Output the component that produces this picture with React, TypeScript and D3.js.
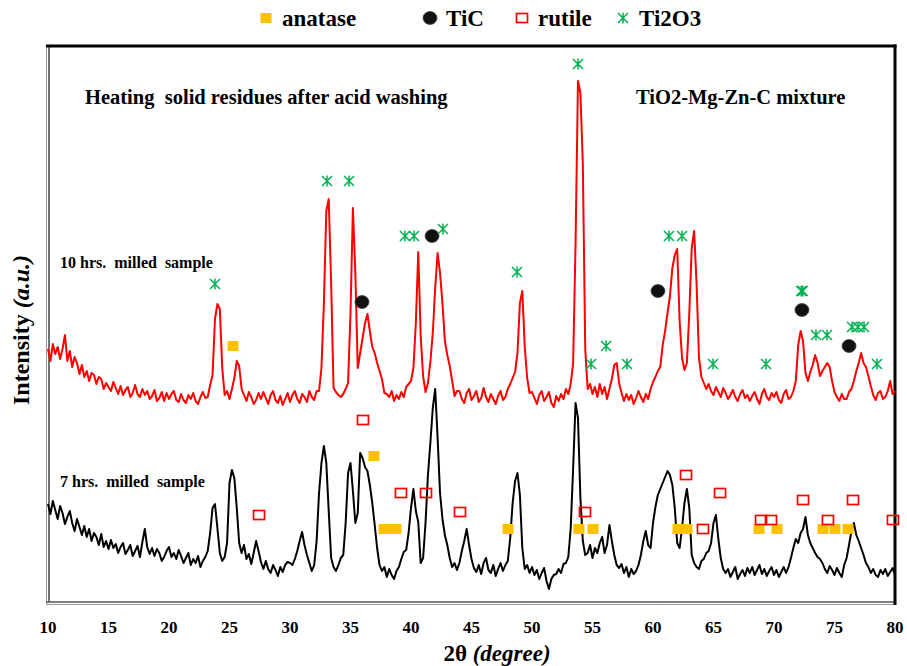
import * as d3 from "d3";
import { useEffect, useRef } from "react";

// XRD patterns sampled every 0.2 degree from 2θ = 10 to 80 (arbitrary intensity, offset stacked)
const THETA_START = 10;
const THETA_STEP = 0.2;

const milled10h = [
  254, 242, 259, 249, 256, 244, 254, 268, 242, 252,
  236, 246, 240, 229, 238, 226, 232, 222, 230, 228,
  219, 226, 224, 214, 220, 216, 212, 221, 215, 209,
  217, 208, 213, 216, 206, 210, 218, 209, 206, 214,
  208, 212, 204, 207, 213, 202, 205, 211, 202, 210,
  204, 209, 212, 203, 201, 209, 203, 200, 208, 204,
  210, 202, 199, 206, 211, 205, 206, 218, 228, 284,
  299, 294, 235, 208, 212, 204, 214, 225, 242, 237,
  214, 208, 202, 211, 206, 199, 203, 210, 204, 211,
  205, 199, 208, 212, 203, 200, 207, 198, 204, 210,
  201, 208, 212, 204, 200, 209, 206, 201, 212, 206,
  203, 212, 212, 235, 300, 392, 404, 320, 215, 211,
  208, 206, 209, 214, 220, 290, 395, 330, 235, 250,
  265, 280, 289, 272, 256, 250, 240, 232, 224, 210,
  209, 206, 212, 202, 208, 204, 211, 206, 216, 219,
  222, 235, 280, 351, 267, 227, 211, 220, 241, 270,
  315, 350, 330, 300, 262, 248, 237, 222, 207, 212,
  212, 204, 200, 210, 214, 203, 207, 212, 201, 205,
  215, 206, 201, 209, 204, 199, 207, 212, 203, 206,
  214, 219, 225, 231, 250, 300, 312, 256, 225, 210,
  211, 205, 199, 208, 212, 202, 206, 211, 200, 196,
  207, 202, 209, 204, 214, 209, 219, 240, 360, 522,
  510, 440, 254, 214, 219, 209, 216, 206, 219, 209,
  216, 204, 214, 224, 238, 240, 220, 210, 202, 209,
  203, 208, 199, 205, 212, 206, 201, 209, 204, 214,
  221, 226, 232, 236, 258, 272, 290, 307, 335, 348,
  354, 282, 245, 233, 240, 290, 355, 372, 320, 245,
  226, 220, 214, 219, 212, 208, 216, 211, 206, 215,
  210, 204, 208, 213, 206, 202, 209, 213, 205, 208,
  202, 207, 211, 204, 199, 209, 214, 206, 203, 210,
  206, 211, 203, 200, 209, 213, 204, 206, 212, 222,
  258, 272, 262, 230, 222, 231, 238, 248, 240, 227,
  232, 236, 240, 236, 222, 211, 206, 202, 209, 204,
  204, 211, 214, 222, 232, 240, 250, 240, 236, 227,
  217, 208, 203, 210, 212, 204, 206, 212, 222, 209,
  212,
];

const milled7h = [
  99, 89, 102, 93, 84, 97, 90, 79, 86, 92,
  80, 72, 84, 76, 68, 77, 66, 74, 62, 70,
  66, 58, 69, 56, 62, 54, 63, 55, 59, 50,
  56, 60, 49, 53, 58, 47, 52, 57, 46, 61,
  74, 56, 49, 55, 47, 54, 50, 42, 46, 52,
  56, 46, 50, 44, 53, 47, 40, 45, 50, 38,
  44, 40, 47, 36, 42, 46, 52, 70, 95, 99,
  75, 50, 42, 46, 60, 120, 133, 125, 95, 60,
  50, 58, 44, 49, 39, 50, 62, 52, 41, 34,
  42, 34, 30, 38, 33, 27, 36, 31, 38, 41,
  40, 38, 44, 52, 62, 71, 58, 48, 40, 32,
  38, 62, 110, 140, 157, 140, 92, 45, 36, 32,
  38, 45, 48, 80, 130, 140, 112, 80, 90, 150,
  145, 136, 132, 118, 100, 78, 55, 38, 32, 36,
  26, 34, 28, 24, 32, 36, 44, 51, 53, 70,
  95, 114, 92, 81, 40, 45, 80, 128, 160, 195,
  214, 165, 110, 84, 68, 58, 45, 36, 40, 33,
  40, 52, 62, 74, 58, 44, 35, 31, 38, 29,
  40, 45, 33, 30, 38, 27, 34, 40, 32, 38,
  42, 65, 100, 122, 130, 108, 55, 34, 38, 30,
  36, 28, 33, 24, 30, 35, 22, 14, 24, 28,
  29, 34, 30, 39, 40, 46, 75, 135, 200, 185,
  105, 62, 48, 50, 58, 45, 55, 50, 60, 66,
  50, 58, 78, 62, 48, 38, 35, 39, 30, 36,
  26, 34, 29, 32, 38, 48, 62, 72, 58, 55,
  80, 96, 108, 114, 120, 126, 132, 128, 118, 95,
  60, 55, 75, 100, 114, 95, 48, 40, 36, 34,
  42, 44, 50, 52, 60, 80, 88, 64, 45, 34,
  30, 34, 26, 31, 36, 24, 29, 33, 27, 35,
  30, 36, 28, 33, 38, 29, 34, 27, 32, 36,
  28, 33, 26, 31, 36, 30, 36, 45, 55, 64,
  60, 70, 74, 86, 68, 60, 55, 50, 46, 44,
  40, 34, 30, 37, 33, 28, 35, 30, 26, 38,
  45, 58, 72, 80, 68, 62, 55, 48, 40, 36,
  30, 34, 28, 26, 33, 29, 34, 27, 31, 35,
  28,
];

// phase markers: [2θ, intensity]
const anatase = [
  [25.29, 257], [36.94, 147], [37.77, 74], [38.26, 74], [38.76, 74],
  [48.02, 74], [53.88, 74], [55.04, 74], [62.07, 74], [62.81, 74],
  [68.76, 74], [70.25, 74], [74.05, 74], [75.04, 74], [76.12, 74],
];
const tic = [
  [35.95, 301], [41.74, 367], [60.41, 312], [72.31, 293], [76.2, 257],
];
const rutile = [
  [27.44, 88], [36.03, 183], [39.17, 110], [41.24, 110], [44.05, 91],
  [54.38, 91], [62.73, 128], [64.13, 74], [65.54, 110], [68.93, 83],
  [69.75, 83], [72.4, 103], [74.46, 83], [76.53, 103], [79.83, 83],
];
const ti2o3 = [
  [23.8, 319], [33.06, 422], [34.88, 422], [39.5, 367], [40.25, 367],
  [42.64, 374], [48.76, 331], [53.8, 539], [54.88, 239], [56.12, 257],
  [57.85, 239], [61.32, 367], [62.4, 367], [64.96, 239], [69.34, 239],
  [72.25, 312], [72.37, 312], [73.47, 268], [74.38, 268], [76.45, 276],
  [76.94, 276], [77.44, 276], [78.51, 239],
];

const xTicks = [10, 15, 20, 25, 30, 35, 40, 45, 50, 55, 60, 65, 70, 75, 80];
const legendItems = ["anatase", "TiC", "rutile", "Ti2O3"];

const FONT = "'Liberation Serif', 'Times New Roman', serif";
const GREEN = "#00B050";
const ORANGE = "#FFC000";

const App = () => {
  const ref = useRef(null);

  useEffect(() => {
    const svg = d3.select(ref.current);
    svg.selectAll("*").remove();

    const left = 48, right = 895, top = 46, bottom = 603;

    const x = d3.scaleLinear().domain([10, 80]).range([left, right]);
    const y = d3.scaleLinear().domain([0, 557]).range([bottom, top]);

    const line = d3
      .line()
      .x((d, i) => x(THETA_START + i * THETA_STEP))
      .y((d) => y(d));

    svg.append("rect").attr("width", 907).attr("height", 666).attr("fill", "#fff");

    // frame
    const frame = svg.append("g");
    frame.append("line").attr("x1", 46.5).attr("x2", 46.5).attr("y1", top).attr("y2", 605)
      .attr("stroke", "#999").attr("stroke-width", 1);
    frame.append("line").attr("x1", 49).attr("x2", 49).attr("y1", top).attr("y2", 602)
      .attr("stroke", "#444").attr("stroke-width", 1.5);
    frame.append("line").attr("x1", 46).attr("x2", right).attr("y1", 602).attr("y2", 602)
      .attr("stroke", "#555").attr("stroke-width", 1.5);
    frame.append("line").attr("x1", 46).attr("x2", right + 1).attr("y1", 604.5).attr("y2", 604.5)
      .attr("stroke", "#999").attr("stroke-width", 1);
    frame.append("line").attr("x1", 46).attr("x2", right + 1.5).attr("y1", top).attr("y2", top)
      .attr("stroke", "#000").attr("stroke-width", 3);
    frame.append("line").attr("x1", right).attr("x2", right).attr("y1", top - 1.5).attr("y2", 605)
      .attr("stroke", "#000").attr("stroke-width", 3);

    // patterns
    svg.append("path").datum(milled10h).attr("d", line)
      .attr("fill", "none").attr("stroke", "#FF0000").attr("stroke-width", 2)
      .attr("stroke-linejoin", "round");
    svg.append("path").datum(milled7h).attr("d", line)
      .attr("fill", "none").attr("stroke", "#000").attr("stroke-width", 2)
      .attr("stroke-linejoin", "round");

    // marker drawers
    const drawSquare = (g, cx, cy) =>
      g.append("rect").attr("x", cx - 5.5).attr("y", cy - 5).attr("width", 11).attr("height", 10)
        .attr("fill", ORANGE);
    const drawCircle = (g, cx, cy) =>
      g.append("ellipse").attr("cx", cx).attr("cy", cy).attr("rx", 7).attr("ry", 6.5)
        .attr("fill", "#111").attr("stroke", "#444").attr("stroke-width", 0.8);
    const drawHollow = (g, cx, cy) =>
      g.append("rect").attr("x", cx - 5.5).attr("y", cy - 4.5).attr("width", 11).attr("height", 9)
        .attr("fill", "none").attr("stroke", "#FF0000").attr("stroke-width", 1.7);
    const drawStar = (g, cx, cy) => {
      const s = 5;
      const p = `M${cx - s},${cy - s}L${cx + s},${cy + s}M${cx - s},${cy + s}L${cx + s},${cy - s}M${cx},${cy - s - 0.5}L${cx},${cy + s + 0.5}`;
      g.append("path").attr("d", p).attr("stroke", GREEN).attr("stroke-width", 1.5).attr("fill", "none");
    };

    const marks = svg.append("g");
    anatase.forEach(([t, v]) => drawSquare(marks, x(t), y(v)));
    rutile.forEach(([t, v]) => drawHollow(marks, x(t), y(v)));
    tic.forEach(([t, v]) => drawCircle(marks, x(t), y(v)));
    ti2o3.forEach(([t, v]) => drawStar(marks, x(t), y(v)));

    // x tick labels
    svg.append("g").selectAll("text").data(xTicks).enter().append("text")
      .attr("x", (d) => x(d)).attr("y", 633).attr("text-anchor", "middle")
      .attr("font-family", FONT).attr("font-weight", "bold").attr("font-size", 17)
      .text((d) => d);

    // axis titles
    const xt = svg.append("text").attr("x", 497).attr("y", 661).attr("text-anchor", "middle")
      .attr("font-family", FONT).attr("font-weight", "bold").attr("font-size", 23);
    xt.append("tspan").text("2θ ");
    xt.append("tspan").attr("font-style", "italic").text("(degree)");

    const yt = svg.append("text").attr("transform", "translate(29,330) rotate(-90)")
      .attr("text-anchor", "middle").attr("font-family", FONT).attr("font-weight", "bold")
      .attr("font-size", 24);
    yt.append("tspan").text("Intensity ");
    yt.append("tspan").attr("font-style", "italic").text("(a.u.)");

    // annotations
    const note = (tx, ty, str, size) =>
      svg.append("text").attr("x", tx).attr("y", ty).attr("font-family", FONT)
        .attr("font-weight", "bold").attr("font-size", size).attr("xml:space", "preserve")
        .style("white-space", "pre").text(str);
    note(85, 104, "Heating  solid residues after acid washing", 20.5);
    note(636, 104, "TiO2-Mg-Zn-C mixture", 20.5);
    note(60, 268, "10 hrs.  milled  sample", 16);
    note(60, 487, "7 hrs.  milled  sample", 16);

    // legend
    const lg = svg.append("g");
    const ly = 18;
    const legendX = [266, 430, 522, 623];
    const drawers = [drawSquare, drawCircle, drawHollow, drawStar];
    legendItems.forEach((name, i) => {
      drawers[i](lg, legendX[i], ly);
      lg.append("text").attr("x", legendX[i] + 16).attr("y", ly + 8)
        .attr("font-family", FONT).attr("font-weight", "bold").attr("font-size", 23)
        .text(name);
    });
  }, []);

  return (
    <svg
      ref={ref}
      width={907}
      height={666}
      style={{ position: "absolute", left: 0, top: 0, display: "block" }}
    />
  );
};

export default App;
